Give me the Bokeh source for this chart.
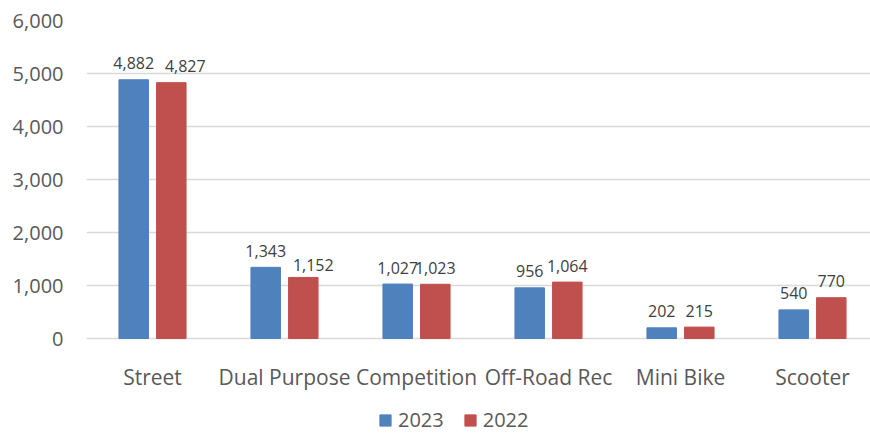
from bokeh.plotting import figure
from bokeh.models import ColumnDataSource, Range1d, FixedTicker, NumeralTickFormatter, Legend, LegendItem
from bokeh.transform import dodge
from bokeh.core.properties import value
from bokeh.embed import file_html
from bokeh.resources import INLINE

categories = ["Street", "Dual Purpose", "Competition", "Off-Road Rec", "Mini Bike", "Scooter"]
values_2023 = [4882, 1343, 1027, 956, 202, 540]
values_2022 = [4827, 1152, 1023, 1064, 215, 770]
series_names = ["2023", "2022"]
series_colors = ["#4F81BD", "#C0504D"]
y_ticks = [0, 1000, 2000, 3000, 4000, 5000, 6000]

# label nudges (screen px) for the 2022 labels, as placed in the original
label_dx_2022 = [14, 10, 0, 0, 0, 0]
label_dy_2022 = [0, 4, 0, 0, 0, 0]

FONT = "Open Sans"
LABEL_GAP = -16.5  # data label baseline above bar top (px)
n = len(categories)
xs = list(range(n))
src = ColumnDataSource(dict(
    x=xs,
    cat=categories,
    zero=[0] * n,
    v2023=values_2023,
    v2022=values_2022,
    l2023=[f"{v:,}" for v in values_2023],
    l2022=[f"{v:,}" for v in values_2022],
    dx2023=[0] * n,
    dy2023=[LABEL_GAP] * n,
    dx2022=label_dx_2022,
    dy2022=[LABEL_GAP + d for d in label_dy_2022],
))

# frame spans down to the bottom of the page; 0 sits at 318 px below the top of the frame
PX_PER_UNIT = 318 / 6000
FRAME_H = 433 - 20
y_start = 6000 - FRAME_H / PX_PER_UNIT

p = figure(width=870, height=433, output_backend="svg", toolbar_location=None,
           x_range=Range1d(-0.5, -0.5 + 784 / 132), y_range=Range1d(y_start, 6000),
           x_axis_location=None,
           min_border_left=86, min_border_right=0, min_border_top=20, min_border_bottom=0)
p.outline_line_color = None
p.background_fill_color = "white"
p.border_fill_color = "white"

off = 0.1424
bw = 0.2235
renderers = []
for key, sign, color in [("2023", -1, series_colors[0]), ("2022", 1, series_colors[1])]:
    r = p.vbar(x=dodge("x", sign * off, range=p.x_range), top="v" + key, bottom="zero", width=bw,
               source=src, fill_color=color, line_color=color)
    renderers.append(r)
    p.text(x=dodge("x", sign * off, range=p.x_range), y="v" + key, text="l" + key, source=src,
           x_offset="dx" + key, y_offset="dy" + key,
           text_align="center", text_baseline="alphabetic",
           text_font=value(FONT), text_font_size="16px", text_color="#404040")

# category labels under the zero line
p.text(x="x", y="zero", text="cat", source=src, y_offset=38.7,
       text_align="center", text_baseline="alphabetic",
       text_font=value(FONT), text_font_size="21px", text_color="#595959")

p.yaxis.ticker = FixedTicker(ticks=y_ticks)
p.yaxis.formatter = NumeralTickFormatter(format="0,0")
p.yaxis.axis_line_color = None
p.yaxis.major_tick_line_color = None
p.yaxis.minor_tick_line_color = None
p.yaxis.major_tick_out = 0
p.yaxis.major_label_standoff = 23
p.yaxis.major_label_text_font = FONT
p.yaxis.major_label_text_font_size = "20px"
p.yaxis.major_label_text_color = "#595959"

p.xgrid.grid_line_color = None
p.ygrid.ticker = FixedTicker(ticks=y_ticks)
p.ygrid.grid_line_color = "#D9D9D9"
p.ygrid.grid_line_width = 1.6

legend = Legend(items=[LegendItem(label=nm, renderers=[r]) for nm, r in zip(series_names, renderers)],
                orientation="horizontal", location=(292, 0),
                padding=0, margin=0, spacing=19, label_standoff=6,
                glyph_width=14, glyph_height=14,
                border_line_color=None, background_fill_alpha=0,
                label_text_font=FONT, label_text_font_size="20px", label_text_color="#595959")
p.add_layout(legend)

open("out.html", "w").write(file_html(p, INLINE))
